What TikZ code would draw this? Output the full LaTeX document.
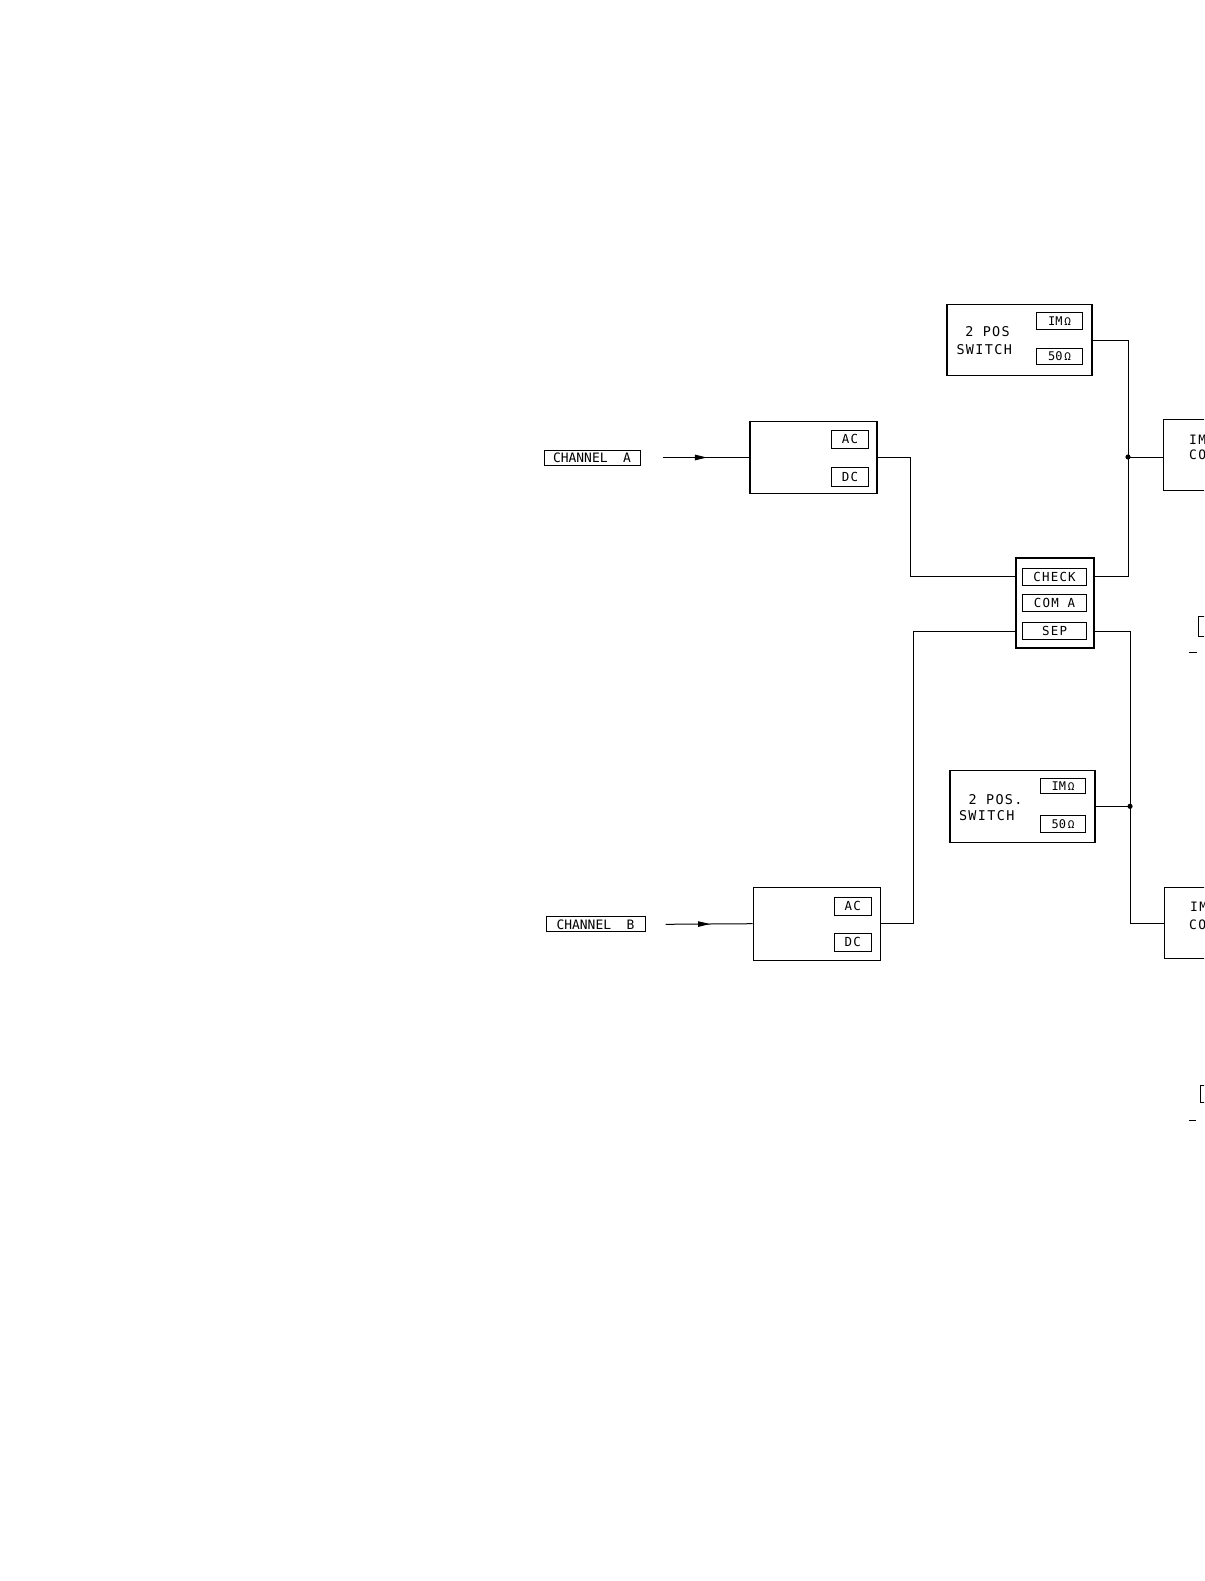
\documentclass[tikz,border=0pt]{standalone}
\usepackage{fontspec}
\newfontfamily\plotfont{DejaVu Sans Mono}
\newfontfamily\plotfontw[LetterSpace=10]{DejaVu Sans Mono}
\usetikzlibrary{arrows.meta,decorations.markings}
\newcommand\ohmsym{{\fontsize{11}{11}\selectfont\,Ω}}
\tikzset{
  frame/.style={draw, line width=1.1bp, inner sep=0pt},
  swbox/.style={frame, minimum width=145bp, minimum height=71.5bp},
  cplbox/.style={frame, minimum width=127bp, minimum height=71.5bp},
  icbox/.style={frame, anchor=north west, minimum width=145bp, minimum height=71bp},
  key/.style={draw, line width=1bp, inner sep=0pt, minimum width=37bp, minimum height=18bp,
    font=\plotfontw\fontsize{12.5}{12.5}\selectfont},
  ohmkey/.style={key, minimum width=45.5bp, minimum height=16.5bp, font=\plotfont\fontsize{12}{12}\selectfont},
  selkey/.style={key, minimum width=64.5bp, minimum height=17bp},
  chan/.style={draw, line width=1bp, inner sep=0pt, minimum height=15bp,
    font=\plotfont\fontsize{13}{13}\selectfont},
  swtext/.style={inner sep=0pt, font=\plotfontw\fontsize{13.5}{14}\selectfont},
  ictext/.style={inner sep=0pt, anchor=west, font=\plotfontw\fontsize{13}{13}\selectfont},
  wire/.style={line width=1bp},
  feed/.style={wire, postaction={decorate}, decoration={markings,
    mark=at position 0.511 with {\arrow{Triangle[length=12bp,width=5.5bp]}}}},
  jdot/.style={fill=black}
}
\begin{document}
\begin{tikzpicture}[x=1bp,y=-1bp]
\useasboundingbox (0,0) rectangle (1204,1581);
\fill[white] (0,0) rectangle (1204,1581);
\clip (0,0) rectangle (1204,1581);

% ---- top switch
\node[swbox] (sw1) at (1019.5,340) {};
\node[ohmkey] (sw1im) at (1059.5,321) {IM\ohmsym};
\node[ohmkey] (sw1fifty) at (1059.5,356.5) {50\ohmsym};
\node[swtext] (sw1ta) at (987.5,331.3) {2 POS};
\node[swtext] (sw1tb) at (984.2,349.7) {SWITCH};

% ---- top impedance converter (cut off)
\node[icbox] (ic1) at (1163,419) {};
\node[ictext] (ic1ta) at (1189,439.5) {IM};
\node[ictext] (ic1tb) at (1189,454.5) {CO};

% ---- channel A
\node[chan, minimum width=96bp] (chA) at (592,457.5) {CHANNEL\ \ A};
\node[cplbox] (cpA) at (813.5,457.5) {};
\node[key] (cpAac) at (850,439) {AC};
\node[key, minimum height=19bp] (cpAdc) at (850,476.5) {DC};

% ---- selector
\node[frame, minimum width=78bp, minimum height=90bp] (sel) at (1055,603) {};
\node[selkey] (chk) at (1054.5,576.5) {CHECK};
\node[selkey] (coma) at (1054.5,602.5) {COM\ A};
\node[selkey] (sep) at (1054.5,631) {SEP};

% ---- bottom switch
\node[swbox] (sw2) at (1022.5,806.3) {};
\node[ohmkey, minimum height=15bp] (sw2im) at (1063,785.7) {IM\ohmsym};
\node[ohmkey, minimum height=17.5bp] (sw2fifty) at (1063,824) {50\ohmsym};
\node[swtext] (sw2ta) at (995.5,799.5) {2 POS.};
\node[swtext] (sw2tb) at (986.7,815.5) {SWITCH};

% ---- bottom impedance converter (cut off)
\node[icbox] (ic2) at (1164,887) {};
\node[ictext] (ic2ta) at (1190,906.5) {IM};
\node[ictext] (ic2tb) at (1189,925) {CO};

% ---- channel B
\node[chan, minimum width=99bp] (chB) at (595.5,924.3) {CHANNEL\ \ B};
\node[cplbox, minimum width=127.7bp, minimum height=72.7bp] (cpB) at (817,923.7) {};
\node[key] (cpBac) at (852.7,906) {AC};
\node[key] (cpBdc) at (852.7,942) {DC};

% ---- partial items at right edge
\node[frame, anchor=north west, minimum width=30bp, minimum height=20bp] (pA) at (1198,616) {};
\coordinate (dA1) at (1189,652.5);
\coordinate (dA2) at (1196.5,652.5);
\draw[wire] (dA1) -- (dA2);
\node[frame, anchor=north west, minimum width=30bp, minimum height=17bp] (pB) at (1200,1085) {};
\coordinate (dB1) at (1189,1120);
\coordinate (dB2) at (1195.5,1120);
\draw[wire] (dB1) -- (dB2);

% ---- junctions
\coordinate (jA) at (1128,457);
\coordinate (jB) at (1130,806.3);

% ---- connectors
\draw[feed] ([xshift=22bp]chA.east) -- (cpA.west);
\draw[feed] ([xshift=20bp]chB.east) -- (cpB.west);

\draw[wire] (cpA.east) -- ++(33,0) |- (chk -| sel.west);
\draw[wire] (cpB.east) -- ++(32,0) |- (sep -| sel.west);

\draw[wire] (sw1.east) -| (jA);
\draw[wire] (jA) |- (chk -| sel.east);
\draw[wire] (jA) -- (jA -| ic1.west);

\draw[wire] (sep -| sel.east) -| (jB);
\draw[wire] (sw2.east) -- (jB);
\draw[wire] (jB) |- (ic2.west);

\fill[jdot] (jA) circle (2.6bp);
\fill[jdot] (jB) circle (2.6bp);
\end{tikzpicture}
\end{document}
